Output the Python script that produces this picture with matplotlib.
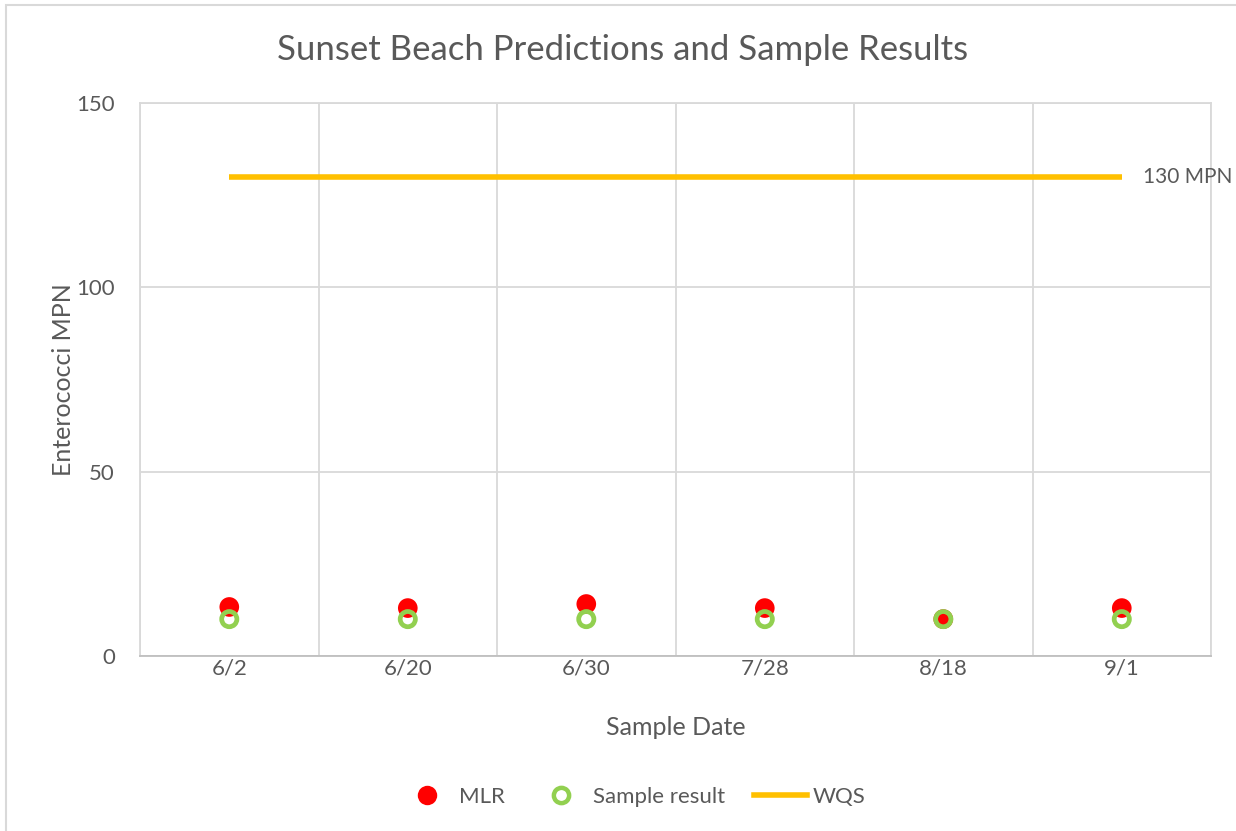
import matplotlib
matplotlib.use('Agg')
import matplotlib.pyplot as plt
from matplotlib.lines import Line2D
from matplotlib.patches import Rectangle

# chart data
dates = ['6/2', '6/20', '6/30', '7/28', '8/18', '9/1']
mlr = [13.3, 13.0, 14.1, 13.0, 10.0, 13.0]
sample_result = [10, 10, 10, 10, 10, 10]
wqs = [130, 130, 130, 130, 130, 130]
wqs_label = '130 MPN'

text_col = '#595959'
grid_col = '#d9d9d9'
plt.rcParams['font.family'] = ['Lato', 'DejaVu Sans']

fig = plt.figure(figsize=(12.36, 8.31), dpi=100)
ax = fig.add_axes([0.1133, 0.2106, 0.8665, 0.6654])

x = list(range(len(dates)))
ax.plot(x, wqs, color='#ffc000', lw=4, solid_capstyle='butt', zorder=3)
ax.scatter(x, mlr, s=200, color='#ff0000', edgecolors='none', zorder=4)
ax.scatter(x, sample_result, s=120, facecolors='none', edgecolors='#92d050',
           linewidths=3.4, zorder=5)
ax.text(x[-1] + 0.12, wqs[-1], wqs_label, fontsize=15, color=text_col, va='center')

ax.set_xlim(-0.5, len(dates) - 0.5)
ax.set_ylim(0, 150)
ax.set_yticks([0, 50, 100, 150])
ax.set_xticks(x)
ax.set_xticklabels(dates)
ax.set_xticks([i + 0.5 for i in range(-1, len(dates))], minor=True)
ax.grid(False)
ax.grid(True, which='minor', axis='x', color=grid_col, lw=1.3)
ax.grid(True, which='major', axis='y', color=grid_col, lw=1.3)
ax.set_axisbelow(True)
for s in ax.spines.values():
    s.set_color(grid_col)
    s.set_linewidth(1.3)
ax.spines['bottom'].set_color('#bfbfbf')
ax.tick_params(which='both', length=0, colors=text_col, labelsize=16, pad=2)
ax.tick_params(axis='y', pad=18)

ax.set_xlabel('Sample Date', fontsize=18, color=text_col, labelpad=27)
ax.set_ylabel('Enterococci MPN', fontsize=18, color=text_col, labelpad=1)
fig.suptitle('Sunset Beach Predictions and Sample Results', fontsize=25,
             color=text_col, x=0.504, y=0.94, va='center')

handles = [
    Line2D([], [], ls='none', marker='o', ms=14, color='#ff0000', mec='none'),
    Line2D([], [], ls='none', marker='o', ms=11, mfc='white', mec='#92d050', mew=3.2),
    Line2D([], [], color='#ffc000', lw=4),
]
fig.legend(handles, ['MLR', 'Sample result', 'WQS'], loc='center',
           bbox_to_anchor=(0.512, 0.041), ncol=3, frameon=False, fontsize=16,
           labelcolor=text_col, handlelength=2.4, columnspacing=1.3, handletextpad=0.25)

fig.patches.append(Rectangle((6 / 1236, -0.01), 1.1, 1 - 5 / 831 + 0.01,
                             transform=fig.transFigure, fill=False,
                             edgecolor=grid_col, lw=1.5))

fig.savefig('out.png', dpi=100, facecolor='white')
